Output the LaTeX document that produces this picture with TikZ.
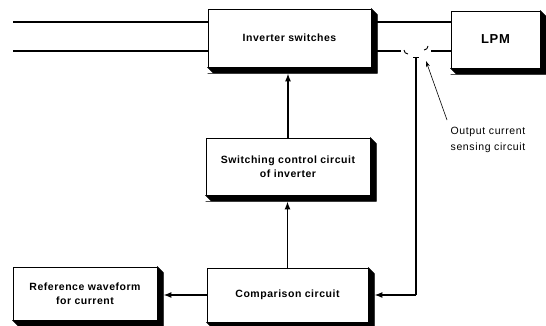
\documentclass[tikz,border=0pt]{standalone}
\usepackage{fontspec}
\setmainfont{Liberation Sans}
\newfontfamily\boxfont[LetterSpace=5]{Liberation Sans}
\newfontfamily\labfont[LetterSpace=6]{Liberation Sans}
\usetikzlibrary{arrows.meta,calc}
\tikzset{
  blk/.style={draw=black, line width=0.7pt, fill=white, inner sep=2pt, align=center,
    font=\boxfont\bfseries\fontsize{10.5}{13.5}\selectfont},
  extr/.style={fill=black, draw=black, line width=0.5pt, line join=miter},
  conn/.style={line width=1.8pt},
  arr/.style={line width=1.8pt, -{Latex[length=8pt,width=6pt]}},
  thin arr/.style={line width=0.6pt, -{Stealth[length=6pt,width=4pt]}},
}
% extruded edge of a named box, drawn after the box
\newcommand{\extrude}[1]{%
  \path[extr] (#1.north east) -- ++(6,6) coordinate (e1) -- (e1 |- #1.south) -- ++(0,6) coordinate (e2)
    -- (e2 -| #1.west) -- ++(6,0) -- (#1.south west) -- (#1.south east) -- cycle;}
\begin{document}
\begin{tikzpicture}[x=1pt,y=-1pt]
\useasboundingbox (0,0) rectangle (546,326);
% free ends of the supply lines
\coordinate (t0) at (13,22);
\coordinate (b0) at (13,51);
\coordinate (s1) at (401,51);
\coordinate (s2) at (431,51);
\coordinate (sv) at (416,58);
% nodes
\node[blk, minimum width=163pt, minimum height=58pt] (inv) at (289.5,38) {Inverter switches};
\node[blk, minimum width=89pt, minimum height=57pt, font=\boxfont\bfseries\fontsize{13}{15}\selectfont] (lpm) at (495.5,39.5) {LPM};
\node[blk, minimum width=164pt, minimum height=57pt] (sw) at (288,166.5) {Switching control circuit\\of inverter};
\node[blk, minimum width=161pt, minimum height=54pt] (cmp) at (287.5,295) {Comparison circuit};
\node[blk, minimum width=144pt, minimum height=53pt] (ref) at (85,293.5) {Reference waveform\\for current};
% extruded edges
\extrude{inv}
\extrude{lpm}
\extrude{sw}
\extrude{cmp}
\extrude{ref}
% supply lines
\draw[conn] (t0) -- (t0 -| inv.west);
\draw[conn] (b0) -- (b0 -| inv.west);
\draw[conn] ($(inv.east |- t0)+(6,0)$) -- (t0 -| lpm.west);
\draw[conn] ($(inv.east |- b0)+(6,0)$) -- (s1);
\draw[conn] (s2) -- (b0 -| lpm.west);
% sensing circuit symbol
\draw[line width=0.9pt] (404,50) arc[start angle=180,end angle=90,radius=4];
\draw[line width=0.9pt] (424,50) arc[start angle=90,end angle=0,radius=4];
\draw[line width=0.9pt] (413,57) -- (419,57);
% connectors
\draw[arr] (sw.north) -- (sw.north |- {$(inv.south)+(0,6)$});
\draw[arr] (cmp.north) -- (cmp.north |- {$(sw.south)+(0,6)$});
\draw[arr] (cmp.west) -- ($(ref.east |- cmp.west)+(6,0)$);
\draw[conn] (sv) -- (sv |- cmp.east);
\draw[arr] (sv |- cmp.east) -- ($(cmp.east)+(6,0)$);
% label
\node[align=center, inner sep=0pt, font=\labfont\fontsize{10.5}{16.5}\selectfont] (lab) at (488,140) {Output current\\sensing circuit};
\coordinate (la) at (447,120);
\draw[thin arr] (la) -- (426,61);
\end{tikzpicture}
\end{document}
